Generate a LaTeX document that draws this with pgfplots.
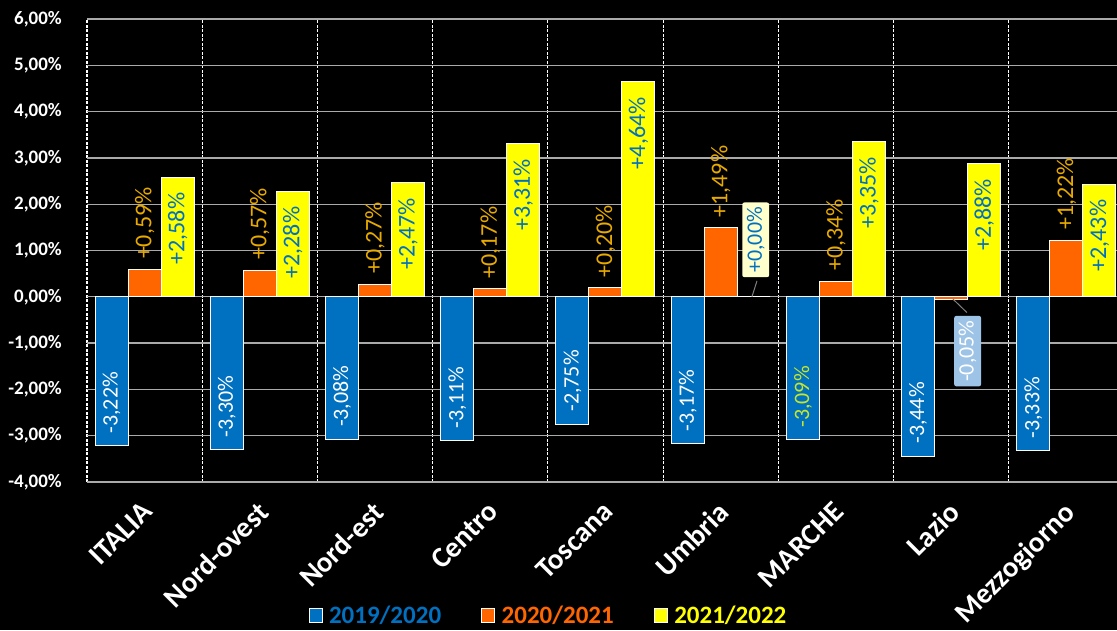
\documentclass[border=0pt]{standalone}
\usepackage{fontspec}
\setmainfont{Carlito}
\usepackage{pgfplots}
\usepackage{pgfplotstable}
\pgfplotsset{compat=1.18}
\definecolor{cblue}{RGB}{0,112,192}
\definecolor{corange}{RGB}{255,102,0}
\definecolor{cyellow}{RGB}{255,255,0}
\definecolor{cgold}{RGB}{232,170,0}
\definecolor{cgrid}{RGB}{170,170,170}
\definecolor{clblue}{RGB}{157,195,230}
\definecolor{clyellow}{RGB}{255,255,204}
\definecolor{cygreen}{RGB}{200,230,40}

\pgfplotstableread{
x y label
0 -3.22 -3,22\%
1 -3.30 -3,30\%
2 -3.08 -3,08\%
3 -3.11 -3,11\%
4 -2.75 -2,75\%
5 -3.17 -3,17\%
6 -3.09 {}
7 -3.44 -3,44\%
8 -3.33 -3,33\%
}\tblblue

\pgfplotstableread{
x y label
0 0.59 +0,59\%
1 0.57 +0,57\%
2 0.27 +0,27\%
3 0.17 +0,17\%
4 0.20 +0,20\%
5 1.49 +1,49\%
6 0.34 +0,34\%
7 -0.05 {}
8 1.22 +1,22\%
}\tblorange

\pgfplotstableread{
x y label
0 2.58 +2,58\%
1 2.28 +2,28\%
2 2.47 +2,47\%
3 3.31 +3,31\%
4 4.64 +4,64\%
5 0.00 {}
6 3.35 +3,35\%
7 2.88 +2,88\%
8 2.43 +2,43\%
}\tblyellow

\begin{document}
\begin{tikzpicture}
\fill[black] (-87pt,-148pt) rectangle (1030pt,482pt);
\begin{axis}[
  at={(0pt,0pt)}, anchor=south west,
  scale only axis, width=1037pt, height=463pt,
  xmin=-0.5, xmax=8.5, ymin=-4, ymax=6,
  axis line style={draw=none},
  ytick={-4,-3,...,6},
  yticklabels={{-4,00\%},{-3,00\%},{-2,00\%},{-1,00\%},{0,00\%},{1,00\%},{2,00\%},{3,00\%},{4,00\%},{5,00\%},{6,00\%}},
  xtick={0,1,...,8},
  xticklabels={ITALIA,Nord-ovest,Nord-est,Centro,Toscana,Umbria,MARCHE,Lazio,Mezzogiorno},
  minor xtick={-0.5,0.5,...,8.5},
  xminorgrids, ymajorgrids,
  major tick length=0pt, minor tick length=0pt,
  major grid style={cgrid, line width=1.3pt},
  minor grid style={white, dash pattern=on 3pt off 1.5pt, line width=1.2pt},
  extra y ticks={0}, extra y tick labels={},
  extra y tick style={grid style={white, line width=1.3pt}},
  yticklabel style={anchor=east, inner sep=0pt, xshift=-25pt, text=white,
     font=\bfseries\fontsize{19}{19}\selectfont},
  xticklabel style={xshift=-4pt, yshift=-18pt, rotate=45, anchor=north east, inner sep=0pt,
     text=white, font=\bfseries\fontsize{29}{29}\selectfont},
  legend columns=3,
  legend style={draw=none, fill=none, at={(0.4450,-0.2880)}, anchor=center,
     font=\bfseries\fontsize{25}{25}\selectfont,
     /tikz/every even column/.append style={column sep=38pt}},
  point meta=explicit symbolic,
]
\addplot[ybar, bar width=33pt, bar shift=-33pt, fill=cblue, draw=white, line width=1pt,
  nodes near coords, nodes near coords style={xshift=-33pt, yshift=12pt, rotate=90, anchor=west, inner sep=0pt,
     text=white, font=\fontsize{22}{22}\selectfont},
  legend image code/.code={\draw[draw=white,fill=cblue,line width=1pt] (0pt,-7pt) rectangle (13pt,7pt); \path[draw=none,fill=none] (0pt,0pt) rectangle (18pt,0pt);}]
  table[x=x, y=y, meta=label] {\tblblue};
\addlegendentry{\textcolor{cblue}{2019/2020}}
\addplot[ybar, bar width=33pt, bar shift=0pt, fill=corange, draw=white, line width=1pt,
  nodes near coords, nodes near coords style={yshift=10pt, rotate=90, anchor=west, inner sep=0pt,
     text=cgold, font=\fontsize{24}{24}\selectfont},
  legend image code/.code={\draw[draw=white,fill=corange,line width=1pt] (0pt,-7pt) rectangle (13pt,7pt); \path[draw=none,fill=none] (0pt,0pt) rectangle (18pt,0pt);}]
  table[x=x, y=y, meta=label] {\tblorange};
\addlegendentry{\textcolor{corange}{2020/2021}}
\addplot[ybar, bar width=33pt, bar shift=33pt, fill=cyellow, draw=white, line width=1pt,
  nodes near coords, nodes near coords style={xshift=33pt, yshift=-15pt, rotate=90, anchor=east, inner sep=0pt,
     text=cblue, font=\fontsize{24}{24}\selectfont},
  legend image code/.code={\draw[draw=white,fill=cyellow,line width=1pt] (0pt,-7pt) rectangle (13pt,7pt); \path[draw=none,fill=none] (0pt,0pt) rectangle (18pt,0pt);}]
  table[x=x, y=y, meta=label] {\tblyellow};
\addlegendentry{\textcolor{cyellow}{2021/2022}}
% callout labels of single points
\addplot[draw=none, mark=none, forget plot, nodes near coords,
  nodes near coords style={xshift=-33pt, yshift=12pt, rotate=90, anchor=west, inner sep=0pt,
     text=cygreen, font=\fontsize{22}{22}\selectfont}]
  coordinates {(6,-3.09) [-3,09\%]};
\addplot[draw=none, mark=none, forget plot, nodes near coords,
  nodes near coords style={xshift=16.5pt, yshift=-52pt, rotate=90, anchor=center, inner sep=4.5pt,
     fill=clblue, rounded corners=2pt, text=white, font=\fontsize{22}{22}\selectfont}]
  coordinates {(7,-0.05) [-0,05\%]};
\addplot[draw=none, mark=none, forget plot, nodes near coords,
  nodes near coords style={xshift=35pt, yshift=57pt, rotate=90, anchor=center, inner sep=4.5pt,
     fill=clyellow, rounded corners=2pt, text=cblue, font=\fontsize{22}{22}\selectfont}]
  coordinates {(5,0) [+0,00\%]};
\draw[gray, line width=1pt] (axis cs:5.271,0) -- (axis cs:5.315,0.345);
\draw[gray, line width=1pt] (axis cs:7.016,-0.05) -- (axis cs:7.137,-0.34);
\end{axis}
\pgfresetboundingbox
\useasboundingbox (-87pt,-148pt) rectangle (1030pt,482pt);
\end{tikzpicture}
\end{document}
